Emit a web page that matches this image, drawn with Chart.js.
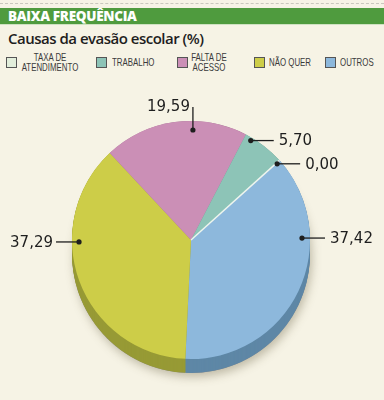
<!DOCTYPE html>
<html>
<head>
<meta charset="utf-8">
<script src="https://cdn.jsdelivr.net/npm/chart.js@4.4.1/dist/chart.umd.min.js"></script>
<style>
  html, body { margin: 0; padding: 0; }
  body { width: 384px; height: 400px; background: #f6f3e5; position: relative; overflow: hidden; font-family: "Open Sans", sans-serif; }
  .dash { position: absolute; left: 0; top: 3px; width: 384px; border-top: 1px dashed #c9c7bd; }
  .band { position: absolute; left: 0; top: 8px; width: 384px; height: 16px; background: #4f9b3e; border-bottom: 1px solid #cfe2c2; }
  .band span { position: absolute; left: 8px; top: 0; color: #fff; font: 800 13.5px/16px "Open Sans", sans-serif; letter-spacing: -0.3px; }
  .title { position: absolute; left: 8px; top: 27px; font: 600 15px/22px "Open Sans", sans-serif; color: #1e1e1e; letter-spacing: -0.5px; }
  .legend { position: absolute; left: 0; top: 50px; width: 384px; height: 26px; }
  .box { position: absolute; top: 7px; width: 9px; height: 9px; border: 1px solid #555; }
  .txt { position: absolute; font: 10.5px/9.5px "Liberation Sans", Arial, sans-serif; color: #3a3a3a; white-space: pre; transform: scaleX(0.75); }
  #wrap { position: absolute; left: 0; top: 80px; width: 384px; height: 320px; }
</style>
</head>
<body>
<div class="dash"></div>
<div class="band"><span>BAIXA FREQUÊNCIA</span></div>
<div class="title">Causas da evasão escolar (%)</div>
<div class="legend" id="legend"></div>
<div id="wrap"><canvas id="chart"></canvas></div>
<script>
// Data (legend order)
const categories = ['TAXA DE\nATENDIMENTO', 'TRABALHO', 'FALTA DE\nACESSO', 'NÃO QUER', 'OUTROS'];
const values = [0.00, 5.70, 19.59, 37.29, 37.42];

// Styles
const topColors = ['#e2eedb', '#8dc4b7', '#cb8fb6', '#cdcd48', '#8db8dc'];
const sideColors = ['#b3bfae', '#6a9a8f', '#9a6c8a', '#979a35', '#5e87a6'];
// drawn clockwise starting from the 0,00 edge
const drawOrder = [4, 3, 2, 1, 0];

// legend layout: box x, text x, text align
const legendPos = [
    { box: 6, text: 50, align: 'center' },
    { box: 96, text: 112, align: 'left' },
    { box: 177, text: 209, align: 'center' },
    { box: 254, text: 269, align: 'left' },
    { box: 325, text: 340, align: 'left' }
];

// label anchors: angle (deg from top, clockwise), distance from centre, direction
const labelAnchors = [
    { angle: 48.5, dist: 115, dir: 'right' },
    { angle: 31, dist: 116, dir: 'right' },
    { angle: 1, dist: 110, dir: 'up' },
    { angle: 269, dist: 112, dir: 'left' },
    { angle: 89, dist: 111, dir: 'right' }
];

function formatValue(v) {
    return v.toFixed(2).replace('.', ',');
}

// Build legend
const legend = document.getElementById('legend');
categories.forEach((cat, i) => {
    const p = legendPos[i];
    const box = document.createElement('div');
    box.className = 'box';
    box.style.left = p.box + 'px';
    box.style.background = topColors[i];
    legend.appendChild(box);
    const txt = document.createElement('div');
    txt.className = 'txt';
    txt.textContent = cat;
    const twoLines = cat.indexOf('\n') >= 0;
    txt.style.top = twoLines ? '3px' : '8px';
    txt.style.textAlign = p.align;
    if (p.align === 'center') {
        txt.style.left = (p.text - 40) + 'px';
        txt.style.width = '80px';
        txt.style.transformOrigin = 'center';
    } else {
        txt.style.left = p.text + 'px';
        txt.style.transformOrigin = 'left';
    }
    legend.appendChild(txt);
});

// 3D side + shadow
const pie3d = {
    id: 'pie3d',
    beforeDatasetsDraw(chart, args, opts) {
        const meta = chart.getDatasetMeta(0);
        const ctx = chart.ctx;
        const depth = opts.depth;
        const first = meta.data[0].getProps(['x', 'y', 'outerRadius'], true);
        ctx.save();
        ctx.shadowColor = 'rgba(90, 80, 50, 0.35)';
        ctx.shadowBlur = 10;
        ctx.shadowOffsetX = 2;
        ctx.shadowOffsetY = 4;
        ctx.fillStyle = '#888';
        ctx.beginPath();
        ctx.arc(first.x, first.y + depth, first.outerRadius, 0, Math.PI * 2);
        ctx.fill();
        ctx.restore();
        ctx.save();
        for (let d = depth; d >= 0; d--) {
            meta.data.forEach((arc, j) => {
                const a = arc.getProps(['x', 'y', 'startAngle', 'endAngle', 'outerRadius'], true);
                if (a.endAngle - a.startAngle <= 0) return;
                ctx.fillStyle = sideColors[drawOrder[j]];
                ctx.beginPath();
                ctx.moveTo(a.x, a.y + d);
                ctx.arc(a.x, a.y + d, a.outerRadius, a.startAngle, a.endAngle);
                ctx.closePath();
                ctx.fill();
            });
        }
        ctx.restore();
    }
};

// leader lines and value labels
const valueLabels = {
    id: 'valueLabels',
    afterDatasetsDraw(chart, args, opts) {
        const meta = chart.getDatasetMeta(0);
        const ctx = chart.ctx;
        const c = meta.data[0].getProps(['x', 'y', 'outerRadius'], true);
        ctx.save();
        // thin pale edge for the empty slice
        const zeroArc = meta.data[drawOrder.indexOf(0)].getProps(['startAngle'], true);
        ctx.strokeStyle = '#eef5ee';
        ctx.lineWidth = 1.5;
        ctx.beginPath();
        ctx.moveTo(c.x, c.y);
        ctx.lineTo(c.x + c.outerRadius * Math.cos(zeroArc.startAngle), c.y + c.outerRadius * Math.sin(zeroArc.startAngle));
        ctx.stroke();

        ctx.strokeStyle = '#1e1e1e';
        ctx.fillStyle = '#1e1e1e';
        ctx.lineWidth = 1.3;
        ctx.font = '15px "DejaVu Sans", sans-serif';
        ctx.textBaseline = 'middle';
        labelAnchors.forEach((an, i) => {
            const rad = an.angle * Math.PI / 180;
            const px = c.x + an.dist * Math.sin(rad);
            const py = c.y - an.dist * Math.cos(rad);
            let ex = px, ey = py;
            if (an.dir === 'right') ex = px + 23;
            if (an.dir === 'left') ex = px - 23;
            if (an.dir === 'up') ey = py - 23;
            ctx.beginPath();
            ctx.moveTo(px, py);
            ctx.lineTo(ex, ey);
            ctx.stroke();
            ctx.beginPath();
            ctx.arc(px, py, 2.6, 0, Math.PI * 2);
            ctx.fill();
            const text = formatValue(values[i]);
            if (an.dir === 'right') {
                ctx.textAlign = 'left';
                ctx.fillText(text, ex + 5, ey + 1);
            } else if (an.dir === 'left') {
                ctx.textAlign = 'right';
                ctx.fillText(text, ex - 3, ey + 1);
            } else {
                ctx.textAlign = 'right';
                ctx.fillText(text, ex - 3, ey);
            }
        });
        ctx.restore();
    }
};

new Chart(document.getElementById('chart'), {
    type: 'pie',
    data: {
        labels: drawOrder.map(i => categories[i]),
        datasets: [{
            data: drawOrder.map(i => values[i]),
            backgroundColor: drawOrder.map(i => topColors[i]),
            borderWidth: 0
        }]
    },
    options: {
        responsive: true,
        maintainAspectRatio: false,
        animation: false,
        rotation: 48,
        layout: { padding: { left: 72, right: 74, top: 41, bottom: 41 } },
        plugins: {
            legend: { display: false },
            tooltip: { enabled: false },
            pie3d: { depth: 14 }
        }
    },
    plugins: [pie3d, valueLabels]
});
</script>
</body>
</html>
